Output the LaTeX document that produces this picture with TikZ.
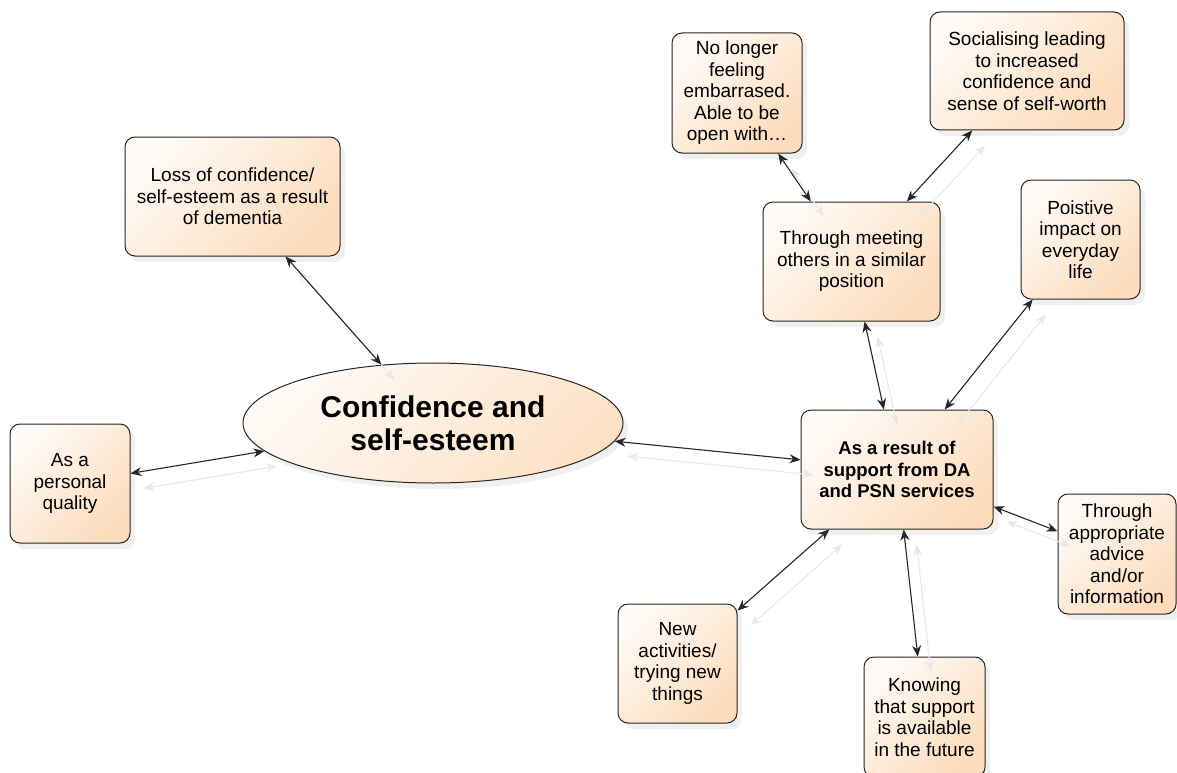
\documentclass[tikz,border=0pt]{standalone}
\usepackage{fontspec}
\setmainfont{Liberation Sans}
\usetikzlibrary{arrows.meta,shadows,shapes.geometric}
\definecolor{cTop}{HTML}{FFFAF5}
\definecolor{cBot}{HTML}{FCDCBC}
\definecolor{faint}{HTML}{E8E8E8}
\tikzset{
  box/.style={draw=black!85, line width=1pt, rounded corners=10pt,
    top color=cTop, bottom color=cBot, shading angle=45,
    drop shadow={opacity=0.12, shadow xshift=5pt, shadow yshift=-6pt},
    align=center, inner sep=2pt,
    font=\fontsize{19}{21.5}\selectfont},
  hub/.style={box, font=\fontsize{18.5}{21.5}\selectfont\bfseries},
  link/.style={{Stealth[length=11pt,width=9pt]}-{Stealth[length=11pt,width=9pt]},
    line width=1.1pt, draw=black!85,
    preaction={draw=faint, line width=1.1pt, transform canvas={shift={(13pt,-15pt)}}}},
}
\begin{document}
\begin{tikzpicture}[x=1pt,y=-1pt]
\useasboundingbox (0,0) rectangle (1177,773);
% nodes
\node[box, minimum width=215pt, minimum height=119pt] (loss) at (232.5,196.5)
  {Loss of confidence/\\self-esteem as a result\\of dementia};
\node[ellipse, draw=black!85, line width=1pt, top color=cTop, bottom color=cBot!85!white, shading angle=45,
  drop shadow={opacity=0.12, shadow xshift=5pt, shadow yshift=-6pt},
  minimum width=380pt, minimum height=120pt, inner sep=0pt, align=center,
  font=\fontsize{30}{33}\selectfont\bfseries] (conf) at (433,423)
  {Confidence and\\self-esteem};
\node[box, minimum width=120pt, minimum height=119pt] (pers) at (70,483.5)
  {As a\\personal\\quality};
\node[box, minimum width=130pt, minimum height=120pt] (nolo) at (737,93)
  {No longer\\feeling\\embarrased.\\Able to be\\open with\ldots};
\node[box, minimum width=194pt, minimum height=118pt] (soc) at (1027,71)
  {Socialising leading\\to increased\\confidence and\\sense of self-worth};
\node[box, minimum width=177pt, minimum height=119pt] (meet) at (851.5,261.5)
  {Through meeting\\others in a similar\\position};
\node[box, minimum width=119pt, minimum height=119pt] (pos) at (1080.5,239.5)
  {Poistive\\impact on\\everyday\\life};
\node[hub, minimum width=192pt, minimum height=119pt] (res) at (897,469.5)
  {As a result of\\support from DA\\and PSN services};
\node[box, minimum width=118pt, minimum height=120pt] (adv) at (1117,554)
  {Through\\appropriate\\advice\\and/or\\information};
\node[box, minimum width=121pt, minimum height=120pt] (know) at (924.5,717)
  {Knowing\\that support\\is available\\in the future};
\node[box, minimum width=119pt, minimum height=119pt] (new) at (677.5,663.5)
  {New\\activities/\\trying new\\things};
% connectors
\draw[link] (loss) -- (conf);
\draw[link] (pers) -- (conf);
\draw[link] (conf) -- (res);
\draw[link] (nolo) -- (meet);
\draw[link] (soc) -- (meet);
\draw[link] (meet) -- (res);
\draw[link] (pos) -- (res);
\draw[link] (res) -- (adv);
\draw[link] (res) -- (new);
\draw[link] (res) -- (know);
\end{tikzpicture}
\end{document}
